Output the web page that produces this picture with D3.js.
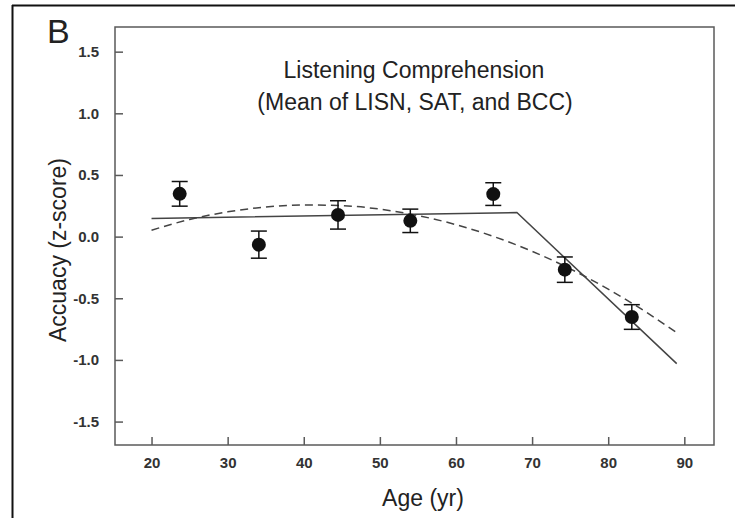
<!DOCTYPE html>
<html>
<head>
<meta charset="utf-8">
<script src="https://cdn.jsdelivr.net/npm/d3@7"></script>
<style>
  html, body { margin: 0; padding: 0; background: #fff; }
  svg { display: block; font-family: "Liberation Sans", Arial, Helvetica, sans-serif; }
</style>
</head>
<body>
<svg id="chart" width="735" height="518"></svg>
<script>
// Group means (age bin centre, mean z-score, standard error)
const ages = [23.7, 34.1, 44.5, 54.0, 64.9, 74.3, 83.1];
const means = [0.347, -0.065, 0.176, 0.128, 0.345, -0.268, -0.652];
const errors = [0.100, 0.110, 0.115, 0.095, 0.092, 0.103, 0.100];

// Piecewise-linear (broken-stick) fit
const segAges = [20, 68, 89];
const segValues = [0.147, 0.195, -1.03];

// Quadratic fit, sampled along the age range
const quadAges = [20, 25, 30, 35, 40, 45, 50, 55, 60, 65, 70, 75, 80, 85, 89];
const quadValues = [0.052, 0.139, 0.201, 0.240, 0.257, 0.251, 0.223, 0.171, 0.097, 0.000, -0.119, -0.261, -0.426, -0.613, -0.779];

const xTicks = [20, 30, 40, 50, 60, 70, 80, 90];
const yTicks = [-1.5, -1.0, -0.5, 0.0, 0.5, 1.0, 1.5];

const svg = d3.select("#chart");
const plot = { left: 115, top: 27, right: 714, bottom: 445 };

const x = d3.scaleLinear().domain([15.2, 93.9]).range([plot.left, plot.right]);
const y = d3.scaleLinear().domain([-1.69, 1.70]).range([plot.bottom, plot.top]);

const axisColor = "#5a5a5a";
const textColor = "#222";

// Outer panel frame (top and left edges)
svg.append("line").attr("x1", 12).attr("y1", 5.5).attr("x2", 735).attr("y2", 5.5)
  .attr("stroke", "#111").attr("stroke-width", 2);
svg.append("line").attr("x1", 12.5).attr("y1", 5).attr("x2", 12.5).attr("y2", 518)
  .attr("stroke", "#111").attr("stroke-width", 2);

// Panel letter
svg.append("text").attr("x", 47).attr("y", 43)
  .attr("font-size", 34).attr("fill", textColor).text("B");

// Plot box
svg.append("rect")
  .attr("x", plot.left).attr("y", plot.top)
  .attr("width", plot.right - plot.left).attr("height", plot.bottom - plot.top)
  .attr("fill", "none").attr("stroke", axisColor).attr("stroke-width", 1.5);

// Axes with inward ticks; minus signs drawn as plain hyphens
const xAxis = d3.axisBottom(x).tickValues(xTicks).tickSizeInner(-8).tickSizeOuter(0)
  .tickPadding(12).tickFormat(d3.format("d"));
const gx = svg.append("g").attr("transform", `translate(0,${plot.bottom})`).call(xAxis);

const yAxis = d3.axisLeft(y).tickValues(yTicks).tickSizeInner(-8).tickSizeOuter(0)
  .tickPadding(16).tickFormat(d => d3.format(".1f")(d).replace("\u2212", "-"));
const gy = svg.append("g").attr("transform", `translate(${plot.left},0)`).call(yAxis);

[gx, gy].forEach(g => {
  g.select(".domain").remove();
  g.selectAll(".tick line").attr("stroke", axisColor).attr("stroke-width", 1.5);
  g.selectAll(".tick text")
    .style("font-size", "15px").style("font-weight", "bold")
    .style("font-family", "\"Liberation Sans\", Arial, sans-serif")
    .attr("fill", "#333");
});

// Axis titles
svg.append("text").attr("x", 423).attr("y", 506).attr("text-anchor", "middle")
  .attr("font-size", 23).attr("fill", textColor).text("Age (yr)");
svg.append("text").attr("transform", "translate(66,250) rotate(-90)")
  .attr("text-anchor", "middle").attr("font-size", 23).attr("fill", textColor)
  .text("Accuacy (z-score)");

// Chart title
svg.append("text").attr("x", 414).attr("y", 78).attr("text-anchor", "middle")
  .attr("font-size", 23).attr("fill", textColor).text("Listening Comprehension");
svg.append("text").attr("x", 415).attr("y", 110).attr("text-anchor", "middle")
  .attr("font-size", 23).attr("fill", textColor).text("(Mean of LISN, SAT, and BCC)");

// Fit lines
const line = d3.line().x(d => x(d[0])).y(d => y(d[1]));
svg.append("path")
  .datum(segAges.map((a, i) => [a, segValues[i]]))
  .attr("d", line).attr("fill", "none").attr("stroke", "#444").attr("stroke-width", 1.5);

svg.append("path")
  .datum(quadAges.map((a, i) => [a, quadValues[i]]))
  .attr("d", line.curve(d3.curveMonotoneX)).attr("fill", "none")
  .attr("stroke", "#444").attr("stroke-width", 1.5).attr("stroke-dasharray", "8,5");

// Error bars and means
const pts = ages.map((a, i) => ({ a, m: means[i], e: errors[i] }));
const eb = svg.append("g").attr("stroke", "#111").attr("stroke-width", 1.5);
pts.forEach(p => {
  const cx = x(p.a);
  eb.append("line").attr("x1", cx).attr("x2", cx).attr("y1", y(p.m + p.e)).attr("y2", y(p.m - p.e));
  eb.append("line").attr("x1", cx - 8).attr("x2", cx + 8).attr("y1", y(p.m + p.e)).attr("y2", y(p.m + p.e));
  eb.append("line").attr("x1", cx - 8).attr("x2", cx + 8).attr("y1", y(p.m - p.e)).attr("y2", y(p.m - p.e));
});
svg.append("g").selectAll("circle").data(pts).join("circle")
  .attr("cx", d => x(d.a)).attr("cy", d => y(d.m)).attr("r", 7).attr("fill", "#111");
</script>
</body>
</html>
